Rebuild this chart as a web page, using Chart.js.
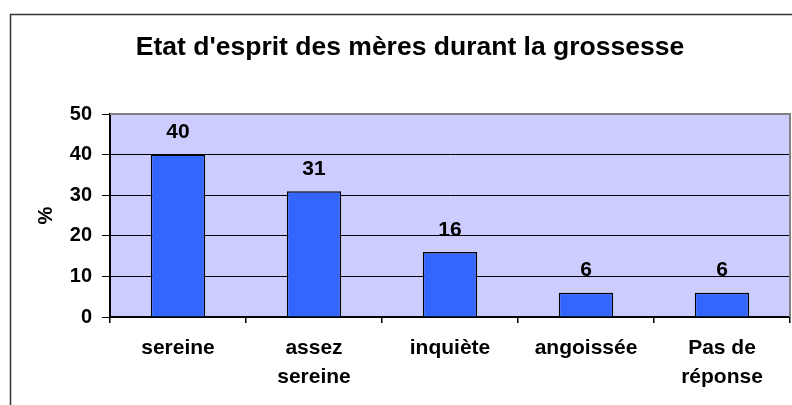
<!DOCTYPE html>
<html>
<head>
<meta charset="utf-8">
<script src="https://cdn.jsdelivr.net/npm/chart.js@4.4.1/dist/chart.umd.min.js"></script>
<style>
  html, body { margin: 0; padding: 0; background: #fff; }
  #wrap { width: 792px; height: 405px; }
</style>
</head>
<body>
<div id="wrap"><canvas id="myChart" width="792" height="405"></canvas></div>
<script>
// Etat d'esprit des mères durant la grossesse
const categories = [['sereine'], ['assez', 'sereine'], ['inquiète'], ['angoissée'], ['Pas de', 'réponse']];
const values = [40, 31, 16, 6, 6];
const yTicks = [0, 10, 20, 30, 40, 50];
const chartTitle = "Etat d'esprit des mères durant la grossesse";

const FONT = "'Liberation Sans', Arial, sans-serif";

// fond du graphe, cadre et titre
const decor = {
    id: 'decor',
    beforeDraw(chart) {
        const ctx = chart.ctx;
        const a = chart.chartArea;
        ctx.save();
        ctx.fillStyle = '#fff';
        ctx.fillRect(0, 0, chart.width, chart.height);
        ctx.fillStyle = '#ccccff';
        ctx.fillRect(a.left, a.top, a.right - a.left, a.bottom - a.top);
        // cadre extérieur (coupé à droite et en bas)
        ctx.strokeStyle = '#333';
        ctx.lineWidth = 1.5;
        ctx.beginPath();
        ctx.moveTo(10.5, chart.height);
        ctx.lineTo(10.5, 14.5);
        ctx.lineTo(chart.width, 14.5);
        ctx.stroke();
        // titre
        ctx.fillStyle = '#000';
        ctx.font = 'bold 26.5px ' + FONT;
        ctx.textAlign = 'center';
        ctx.textBaseline = 'middle';
        ctx.fillText(chartTitle, 410, 48);
        ctx.restore();
    },
    afterDraw(chart) {
        const ctx = chart.ctx;
        const a = chart.chartArea;
        ctx.save();
        ctx.strokeStyle = '#808080';
        ctx.lineWidth = 2;
        ctx.beginPath();
        ctx.moveTo(a.left, a.top);
        ctx.lineTo(a.right, a.top);
        ctx.lineTo(a.right, a.bottom);
        ctx.stroke();
        ctx.restore();
    }
};

// valeurs au-dessus des barres
const valueLabels = {
    id: 'valueLabels',
    afterDatasetsDraw(chart) {
        const ctx = chart.ctx;
        const meta = chart.getDatasetMeta(0);
        ctx.save();
        ctx.fillStyle = '#000';
        ctx.font = 'bold 21px ' + FONT;
        ctx.textAlign = 'center';
        ctx.textBaseline = 'middle';
        meta.data.forEach((bar, i) => {
            ctx.fillText(values[i], bar.x, bar.y - 22);
        });
        ctx.restore();
    }
};

new Chart(document.getElementById('myChart'), {
    type: 'bar',
    data: {
        labels: categories,
        datasets: [{
            data: values,
            backgroundColor: '#3366ff',
            borderColor: '#000',
            borderWidth: 1.5,
            barPercentage: 0.4,
            categoryPercentage: 1
        }]
    },
    options: {
        responsive: false,
        animation: false,
        events: [],
        layout: { padding: { top: 114, left: 0, right: 2, bottom: 0 } },
        plugins: {
            legend: { display: false },
            tooltip: { enabled: false },
            title: { display: false }
        },
        scales: {
            x: {
                afterFit: scale => { scale.height = 88; },
                grid: {
                    drawOnChartArea: false,
                    drawTicks: true,
                    tickLength: 6,
                    color: '#000',
                    lineWidth: 1.5
                },
                border: { color: '#000', width: 2 },
                ticks: {
                    color: '#000',
                    padding: 11,
                    maxRotation: 0,
                    autoSkip: false,
                    font: { family: FONT, size: 21, weight: 'bold', lineHeight: 1.36 }
                }
            },
            y: {
                min: 0,
                max: 50,
                afterFit: scale => { scale.width = 110; },
                afterBuildTicks: scale => { scale.ticks = yTicks.map(v => ({ value: v })); },
                grid: {
                    color: ctx => ctx.tick && ctx.tick.value === 50 ? '#808080' : '#000',
                    tickColor: '#000',
                    lineWidth: 1,
                    tickLength: 8
                },
                border: { color: '#000', width: 2 },
                ticks: {
                    color: '#000',
                    padding: 10,
                    font: { family: FONT, size: 20, weight: 'bold' }
                },
                title: {
                    display: true,
                    text: '%',
                    color: '#000',
                    padding: { top: 34, bottom: 0 },
                    font: { family: FONT, size: 20, weight: 'bold' }
                }
            }
        }
    },
    plugins: [decor, valueLabels]
});
</script>
</body>
</html>
